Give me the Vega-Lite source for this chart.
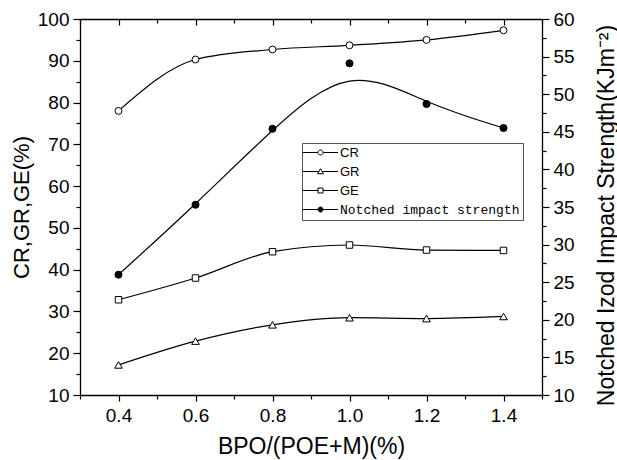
{
  "$schema": "https://vega.github.io/schema/vega-lite/v6.json",
  "width": 462,
  "height": 376,
  "autosize": "none",
  "padding": {"left": 80, "top": 19, "right": 75, "bottom": 65},
  "background": "white",
  "config": {
    "view": {"stroke": null},
    "axis": {
      "grid": false,
      "domainColor": "black",
      "domainWidth": 1.3,
      "tickColor": "black",
      "tickWidth": 1.2,
      "labelFont": "Liberation Sans",
      "labelFontSize": 19,
      "labelColor": "black",
      "titleFont": "Liberation Sans",
      "titleFontSize": 22,
      "titleFontWeight": "normal",
      "titleColor": "black"
    },
    "legend": {
      "title": null,
      "strokeColor": "#555",
      "padding": 3,
      "symbolSize": 25,
      "symbolOffset": 9,
      "labelOffset": 13,
      "rowPadding": 5,
      "symbolStrokeColor": "black",
      "symbolStrokeWidth": 1,
      "symbolOpacity": 1,
      "labelFont": "Liberation Sans",
      "labelFontSize": 13,
      "labelColor": "black",
      "labelLimit": 300
    }
  },
  "data": {
    "values": [
      {"x": 0.4, "series": "CR", "value": 78.0},
      {"x": 0.6, "series": "CR", "value": 90.3},
      {"x": 0.8, "series": "CR", "value": 92.7},
      {"x": 1.0, "series": "CR", "value": 93.7},
      {"x": 1.2, "series": "CR", "value": 95.0},
      {"x": 1.4, "series": "CR", "value": 97.3},
      {"x": 0.4, "series": "GR", "value": 17.2},
      {"x": 0.6, "series": "GR", "value": 22.9},
      {"x": 0.8, "series": "GR", "value": 26.8},
      {"x": 1.0, "series": "GR", "value": 28.5},
      {"x": 1.2, "series": "GR", "value": 28.3},
      {"x": 1.4, "series": "GR", "value": 28.8},
      {"x": 0.4, "series": "GE", "value": 32.8},
      {"x": 0.6, "series": "GE", "value": 38.0},
      {"x": 0.8, "series": "GE", "value": 44.3},
      {"x": 1.0, "series": "GE", "value": 45.9},
      {"x": 1.2, "series": "GE", "value": 44.7},
      {"x": 1.4, "series": "GE", "value": 44.6},
      {"x": 0.4, "series": "Notched impact strength", "value": 26.0},
      {"x": 0.6, "series": "Notched impact strength", "value": 35.3},
      {"x": 0.8, "series": "Notched impact strength", "value": 45.4},
      {"x": 1.0, "series": "Notched impact strength", "value": 54.1},
      {"x": 1.2, "series": "Notched impact strength", "value": 48.7},
      {"x": 1.4, "series": "Notched impact strength", "value": 45.5}
    ]
  },
  "layer": [
    {
      "encoding": {
        "x": {
          "field": "x", "type": "quantitative",
          "scale": {"domain": [0.3, 1.5], "nice": false, "zero": false},
          "axis": {
            "orient": "bottom",
            "title": "BPO/(POE+M)(%)",
            "titleFontSize": 23,
            "titleBaseline": "top",
            "titleY": 40,
            "values": [0.3, 0.4, 0.5, 0.6, 0.7, 0.8, 0.9, 1.0, 1.1, 1.2, 1.3, 1.4, 1.5],
            "labelExpr": "round(datum.value*10) % 2 == 0 ? format(datum.value, '.1f') : ''",
            "tickSize": {"condition": {"test": "round(datum.value*10) % 2 == 0", "value": 6}, "value": 4},
            "labelPadding": 5,
            "labelFlush": false,
            "labelOverlap": false
          }
        },
        "y": {
          "field": "value", "type": "quantitative",
          "scale": {"domain": [10, 100], "nice": false, "zero": false},
          "axis": {
            "orient": "left",
            "title": "CR,GR,GE(%)",
            "titleX": -47,
            "titleY": 188,
            "titleAngle": 270,
            "titleBaseline": "bottom",
            "titleAlign": "center",
            "values": [10, 15, 20, 25, 30, 35, 40, 45, 50, 55, 60, 65, 70, 75, 80, 85, 90, 95, 100],
            "labelExpr": "datum.value % 10 == 0 ? datum.value : ''",
            "tickSize": {"condition": {"test": "datum.value % 10 == 0", "value": 7}, "value": 4},
            "labelPadding": 4,
            "labelFlush": false,
            "labelOverlap": false
          }
        }
      },
      "layer": [
        {
          "transform": [{"filter": "datum.series != 'Notched impact strength'"}],
          "mark": {"type": "line", "interpolate": "monotone", "color": "black", "strokeWidth": 1.2},
          "encoding": {"detail": {"field": "series"}}
        },
        {
          "transform": [{"filter": "datum.series == 'CR'"}],
          "mark": {"type": "point", "shape": "circle", "size": 48, "filled": true, "fill": "white", "stroke": "black", "strokeWidth": 1, "opacity": 1}
        },
        {
          "transform": [{"filter": "datum.series == 'GR'"}],
          "mark": {"type": "point", "shape": "triangle-up", "size": 58, "filled": true, "fill": "white", "stroke": "black", "strokeWidth": 1, "opacity": 1}
        },
        {
          "transform": [{"filter": "datum.series == 'GE'"}],
          "mark": {"type": "point", "shape": "square", "size": 42, "filled": true, "fill": "white", "stroke": "black", "strokeWidth": 1, "opacity": 1}
        },
        {
          "mark": {"type": "point", "opacity": 0, "stroke": "black"},
          "encoding": {
            "shape": {
              "field": "series", "type": "nominal",
              "scale": {
                "domain": ["CR", "GR", "GE", "Notched impact strength"],
                "range": [
                  "M-7,0H-1.1M1.1,0H7M-1,0A1,1 0 1,1 1,0A1,1 0 1,1 -1,0Z",
                  "M-7,0H-0.7M0.7,0H7M0,-1.1L1.2,0.9L-1.2,0.9Z",
                  "M-7,0H-1M1,0H7M-1,-1H1V1H-1Z",
                  "M-7,0H-1.1M1.1,0H7M-1,0A1,1 0 1,1 1,0A1,1 0 1,1 -1,0Z"
                ]
              },
              "legend": {
                "orient": "none",
                "legendX": 222,
                "legendY": 124,
                "encode": {
                  "symbols": {
                    "update": {
                      "stroke": {"value": "black"},
                      "strokeWidth": {"value": 1},
                      "opacity": {"value": 1},
                      "strokeOpacity": {"value": 1}
                    }
                  },
                  "labels": {
                    "update": {
                      "font": {"signal": "datum.value == 'Notched impact strength' ? 'Liberation Mono' : 'Liberation Sans'"}
                    }
                  }
                }
              }
            },
            "fill": {
              "field": "series", "type": "nominal",
              "scale": {
                "domain": ["CR", "GR", "GE", "Notched impact strength"],
                "range": ["white", "white", "white", "black"]
              },
              "legend": {
                "orient": "none",
                "legendX": 222,
                "legendY": 124,
                "encode": {
                  "symbols": {
                    "update": {
                      "stroke": {"value": "black"},
                      "strokeWidth": {"value": 1},
                      "opacity": {"value": 1},
                      "strokeOpacity": {"value": 1}
                    }
                  },
                  "labels": {
                    "update": {
                      "font": {"signal": "datum.value == 'Notched impact strength' ? 'Liberation Mono' : 'Liberation Sans'"}
                    }
                  }
                }
              }
            }
          }
        }
      ]
    },
    {
      "encoding": {
        "x": {
          "field": "x", "type": "quantitative",
          "scale": {"domain": [0.3, 1.5], "nice": false, "zero": false},
          "axis": {
            "orient": "top",
            "title": null,
            "labels": false,
            "values": [0.3, 0.4, 0.5, 0.6, 0.7, 0.8, 0.9, 1.0, 1.1, 1.2, 1.3, 1.4, 1.5],
            "tickSize": {"condition": {"test": "round(datum.value*10) % 2 == 0", "value": -6}, "value": -4}
          }
        },
        "y": {
          "field": "value", "type": "quantitative",
          "scale": {"domain": [10, 60], "nice": false, "zero": false},
          "axis": {
            "orient": "right",
            "title": "Notched Izod Impact Strength(KJm⁻²)",
            "titleFontSize": 23,
            "titleX": 53,
            "titleY": 196,
            "titleAngle": 270,
            "titleBaseline": "top",
            "titleAlign": "center",
            "values": [10, 12.5, 15, 17.5, 20, 22.5, 25, 27.5, 30, 32.5, 35, 37.5, 40, 42.5, 45, 47.5, 50, 52.5, 55, 57.5, 60],
            "labelExpr": "datum.value % 5 == 0 ? datum.value : ''",
            "tickSize": {"condition": {"test": "datum.value % 5 == 0", "value": 7}, "value": 4},
            "labelPadding": 4,
            "labelFlush": false,
            "labelOverlap": false
          }
        }
      },
      "layer": [
        {
          "transform": [{"filter": "datum.series == 'Notched impact strength'"}],
          "mark": {"type": "line", "interpolate": "basis", "color": "black", "strokeWidth": 1.2}
        },
        {
          "transform": [{"filter": "datum.series == 'Notched impact strength'"}],
          "mark": {"type": "point", "shape": "circle", "size": 50, "filled": true, "fill": "black", "stroke": "black", "strokeWidth": 1, "opacity": 1}
        }
      ]
    }
  ],
  "resolve": {"scale": {"y": "independent"}, "axis": {"x": "independent"}}
}
